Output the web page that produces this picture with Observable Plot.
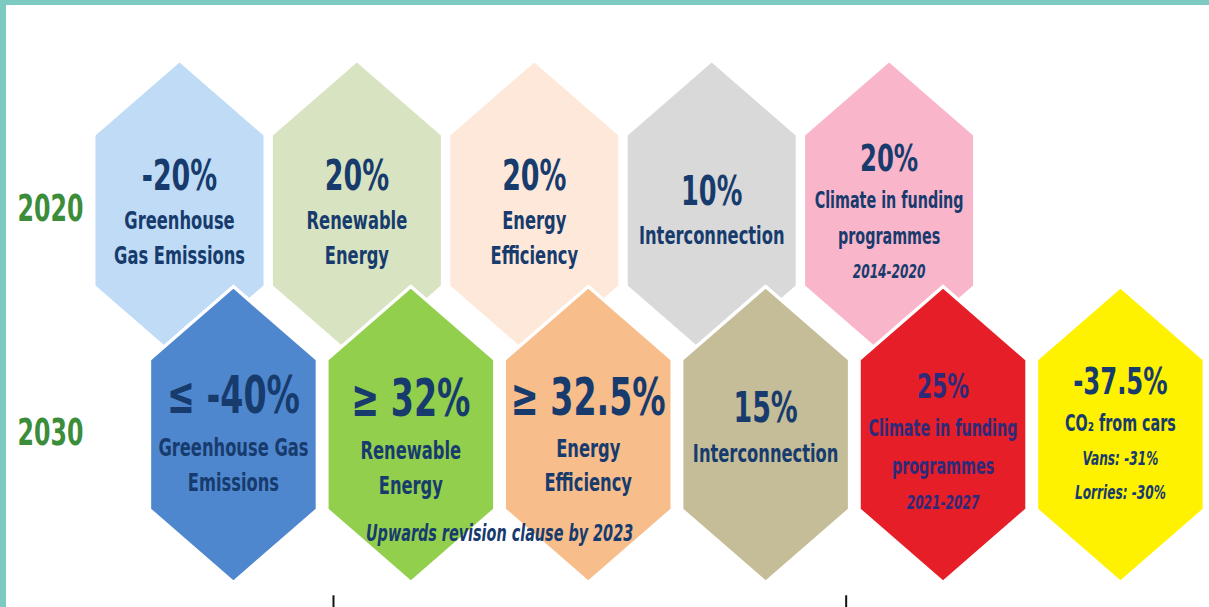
<!DOCTYPE html>
<html><head><meta charset="utf-8">
<script src="https://cdn.jsdelivr.net/npm/d3@7"></script>
<script src="https://cdn.jsdelivr.net/npm/@observablehq/plot@0.6"></script>
<style>
html,body{margin:0;padding:0;background:#fff;}
#wrap{position:relative;width:1209px;height:607px;overflow:hidden;background:#fff;}
#wrap svg{position:absolute;left:0;top:0;}
.strip{position:absolute;background:#7ccac2;z-index:2;}
</style></head><body>
<div id="wrap">
  <div class="strip" style="left:0;top:0;width:6px;height:607px"></div>
  <div class="strip" style="left:0;top:0;width:1209px;height:5px"></div>
</div>
<script>
// ---------- DATA ----------
const years = ["2020", "2030"];

const values2020 = ["-20%", "20%", "20%", "10%", "20%"];
const labels2020 = [["Greenhouse", "Gas Emissions"], ["Renewable", "Energy"], ["Energy", "Efficiency"], ["Interconnection"], ["Climate in funding", "programmes"]];
const notes2020 = [[], [], [], [], ["2014-2020"]];

const values2030 = ["≤ -40%", "≥ 32%", "≥ 32.5%", "15%", "25%", "-37.5%"];
const labels2030 = [["Greenhouse Gas", "Emissions"], ["Renewable", "Energy"], ["Energy", "Efficiency"], ["Interconnection"], ["Climate in funding", "programmes"], ["CO₂ from cars"]];
const notes2030 = [[], [], [], [], ["2021-2027"], ["Vans: -31%", "Lorries: -30%"]];

const footnoteText = "Upwards revision clause by 2023";
const footnoteCols = [1, 2];          // spans the 2030 renewable + efficiency hexes
const bracketTicks = [0.868, 3.758];  // cut-off bracket below the chart (column units)

// ---------- STYLES ----------
const fills2020 = ["#bfdbf5", "#d8e4c1", "#fde8d9", "#d9d9d9", "#f9b5ca"];
const fills2030 = ["#4f87cf", "#92cf4c", "#f7bd8b", "#c4bd97", "#e61e27", "#fff200"];
const valueSize2020 = [42, 42, 42, 40, 38];
const valueSize2030 = [52, 52, 52, 42, 34, 38];
const labelSize2020 = [25.5, 25.5, 25.5, 25.5, 22.4];
const labelSize2030 = [25.5, 25.5, 25.5, 25.5, 22.4, 22.4];
const labelSlot2030 = [35, 35, 34, 35, 38, 35];
const nudge2020 = [0, 0, 0, -2, 0];
const nudge2030 = [-3, 0, -2, -8, 8, -1];
const ink = "#173b6d", inkOnRed = "#2d2a7a", yearInk = "#3b8d3a";
const rowShift = [0, 0.304];
const rowPx = 224;
const textCenter = [1, 0];
const squeeze = 0.64;

// ---------- BUILD ----------
const rows = [
  {values: values2020, labels: labels2020, notes: notes2020, fills: fills2020, vs: valueSize2020, ls: labelSize2020, slot: [35, 35, 35, 35, 36], nudge: nudge2020},
  {values: values2030, labels: labels2030, notes: notes2030, fills: fills2030, vs: valueSize2030, ls: labelSize2030, slot: labelSlot2030, nudge: nudge2030}
];
const hexes = [], lines = [];
rows.forEach((R, r) => {
  R.values.forEach((v, c) => {
    const x = c + rowShift[r];
    const color = R.fills[c] === "#e61e27" ? inkOnRed : ink;
    hexes.push({row: r, x, fill: R.fills[c]});
    const items = [{text: v, size: R.vs[c], slot: R.vs[c] * 1.3, italic: false}];
    R.labels[c].forEach(t => items.push({text: t, size: R.ls[c], slot: R.slot[c], italic: false}));
    R.notes[c].forEach(t => items.push({text: t, size: 19, slot: 34, italic: true}));
    const total = d3.sum(items, d => d.slot);
    let pos = -total / 2 + textCenter[r] + R.nudge[c];
    items.forEach(it => {
      const off = pos + it.slot / 2;
      pos += it.slot;
      lines.push({x, y: r + off / rowPx, text: it.text, size: it.size, italic: it.italic, color});
    });
  });
});
const footnote = [{x: d3.mean(footnoteCols) + rowShift[1], y: 1 + 99 / rowPx, text: footnoteText}];

const tallHex = {
  draw(ctx, size) {
    const w = Math.sqrt(size / Math.PI), e = w * 0.893, h = w * 1.762;
    ctx.moveTo(0, -h); ctx.lineTo(w, -e); ctx.lineTo(w, e); ctx.lineTo(0, h);
    ctx.lineTo(-w, e); ctx.lineTo(-w, -e); ctx.closePath();
  }
};

const chart = Plot.plot({
  width: 1209, height: 607, margin: 0,
  x: {domain: [0, 5], range: [179, 179 + 5 * 177.4], axis: null},
  y: {domain: [0, 1], range: [210, 434], axis: null},
  color: {type: "identity"},
  style: {fontFamily: "DejaVu Sans", background: "transparent"},
  marks: [
    Plot.dot(hexes.filter(d => d.row === 0), {x: "x", y: "row", r: 84, symbol: tallHex, fill: "fill", stroke: "none"}),
    Plot.dot(hexes.filter(d => d.row === 1), {x: "x", y: "row", r: 84, symbol: tallHex, fill: "fill", stroke: "#fff", strokeWidth: 3.5}),
    Plot.text(lines.filter(d => !d.italic), {x: "x", y: "y", text: "text", fontSize: "size", fill: "color", fontWeight: "bold", textAnchor: "middle", lineAnchor: "middle"}),
    Plot.text(lines.filter(d => d.italic), {x: "x", y: "y", text: "text", fontSize: "size", fill: "color", fontWeight: "bold", fontStyle: "italic", textAnchor: "middle", lineAnchor: "middle"}),
    Plot.text(footnote, {x: "x", y: "y", text: "text", fontSize: 22.5, fill: ink, fontWeight: "bold", fontStyle: "italic", lineAnchor: "middle"}),
    Plot.text(years, {y: (d, i) => i, text: d => d, frameAnchor: "left", dx: 50, dy: -1, fontSize: 37, fontWeight: "bold", fill: yearInk, textAnchor: "middle", lineAnchor: "middle"}),
    Plot.ruleX(bracketTicks, {x: d => d, y1: 1.72, y2: 1.85, stroke: "#111", strokeWidth: 2})
  ]
});

chart.querySelectorAll("text").forEach(t => {
  const tr = t.getAttribute("transform");
  if (tr) t.setAttribute("transform", tr + ` scale(${squeeze},1)`);
  else {
    const x = +t.getAttribute("x") || 0, y = +t.getAttribute("y") || 0;
    t.removeAttribute("x"); t.removeAttribute("y");
    t.setAttribute("transform", `translate(${x},${y}) scale(${squeeze},1)`);
  }
});
document.getElementById("wrap").appendChild(chart);
</script>
</body></html>
